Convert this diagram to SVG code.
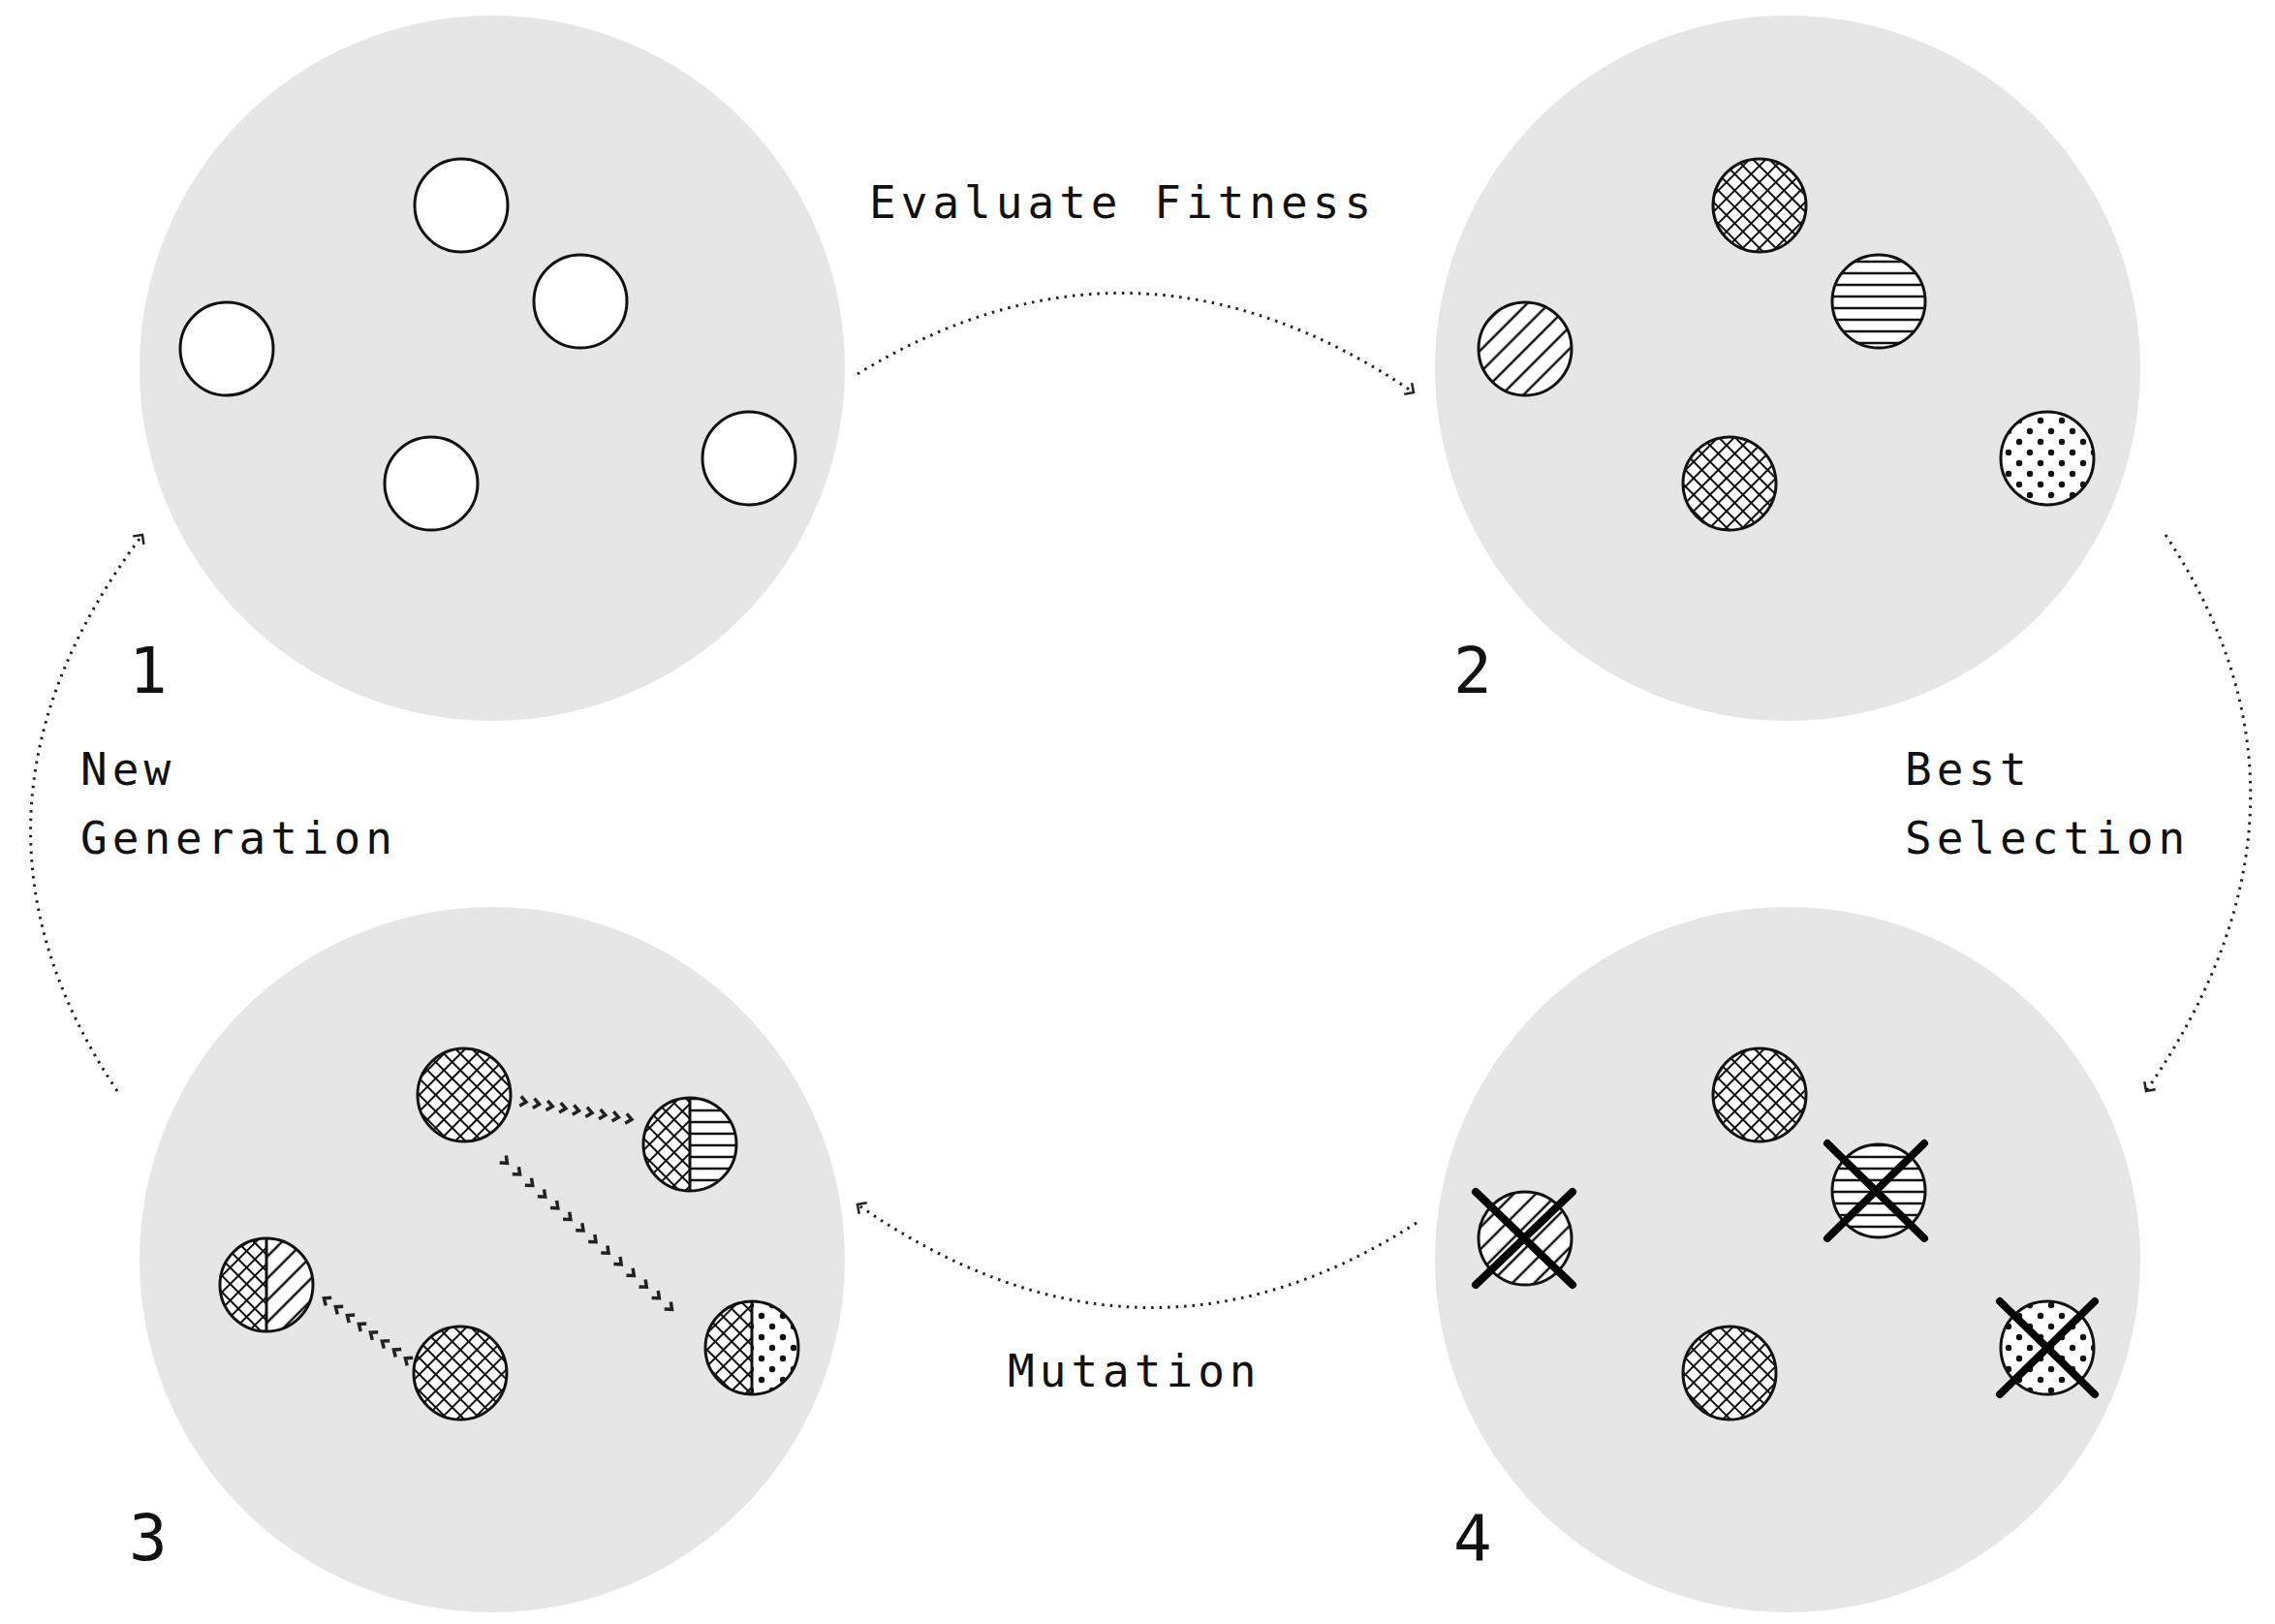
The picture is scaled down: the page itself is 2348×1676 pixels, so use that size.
<svg xmlns="http://www.w3.org/2000/svg" width="2348" height="1676" viewBox="0 0 2348 1676">
<style>
.big{fill:#e6e6e6}
.out{fill:none;stroke:#111;stroke-width:3}
.wh{fill:#fff;stroke:#111;stroke-width:3}
.lbl{font-family:"DejaVu Sans Mono","Liberation Mono",monospace;font-size:46px;letter-spacing:5px;fill:#111}
.num{font-family:"DejaVu Sans Mono","Liberation Mono",monospace;font-size:66px;fill:#111}
.conn{fill:none;stroke:#222;stroke-width:3;stroke-dasharray:2.5 6}
.chain{fill:none;stroke:none}
.x{stroke:#000;stroke-width:8;stroke-linecap:round}
.div{stroke:#111;stroke-width:3}
</style>
<defs>
<pattern id="cross" patternUnits="userSpaceOnUse" width="12" height="12" patternTransform="rotate(45)">
<rect width="12" height="12" fill="#fff"/>
<path d="M0 0H12M0 0V12" stroke="#111" stroke-width="4"/>
</pattern>
<pattern id="horiz" patternUnits="userSpaceOnUse" width="12" height="12">
<rect width="12" height="12" fill="#fff"/>
<path d="M0 6H12" stroke="#111" stroke-width="2.5"/>
</pattern>
<pattern id="diag" patternUnits="userSpaceOnUse" width="16" height="16" patternTransform="rotate(-45)">
<rect width="16" height="16" fill="#fff"/>
<path d="M0 8H16" stroke="#111" stroke-width="2.5"/>
</pattern>
<pattern id="dots" patternUnits="userSpaceOnUse" width="22" height="22">
<rect width="22" height="22" fill="#fff"/>
<circle cx="5" cy="5" r="3.2" fill="#111"/>
<circle cx="16" cy="16" r="3.2" fill="#111"/>
</pattern>
<marker id="hd" markerWidth="20" markerHeight="20" refX="10" refY="10" orient="auto" markerUnits="userSpaceOnUse">
<path d="M3 3L10 10L3 17" fill="none" stroke="#222" stroke-width="2.5"/>
</marker>
<marker id="chev" markerWidth="14" markerHeight="14" refX="7" refY="7" orient="auto" markerUnits="userSpaceOnUse">
<path d="M3 2L9 7L3 12" fill="none" stroke="#222" stroke-width="3.5"/>
</marker>
</defs>

<g id="node1">
<circle class="big" cx="508" cy="380" r="364"/>
<circle class="wh" cx="476" cy="212" r="48"/>
<circle class="wh" cx="599" cy="311" r="48"/>
<circle class="wh" cx="234" cy="360" r="48"/>
<circle class="wh" cx="445" cy="499" r="48"/>
<circle class="wh" cx="773" cy="473" r="48"/>
<text class="num" x="133" y="715">1</text>
</g>

<g id="node2">
<circle class="big" cx="1845" cy="380" r="364"/>
<circle class="out" cx="1816" cy="212" r="48" style="fill:url(#cross)"/>
<circle class="out" cx="1939" cy="311" r="48" style="fill:url(#horiz)"/>
<circle class="out" cx="1574" cy="360" r="48" style="fill:url(#diag)"/>
<circle class="out" cx="1785" cy="499" r="48" style="fill:url(#cross)"/>
<circle class="out" cx="2113" cy="473" r="48" style="fill:url(#dots)"/>
<text class="num" x="1500" y="715">2</text>
</g>

<g id="node3">
<circle class="big" cx="508" cy="1300" r="364"/>
<circle class="out" cx="479" cy="1130" r="48" style="fill:url(#cross)"/>
<circle class="out" cx="475" cy="1417" r="48" style="fill:url(#cross)"/>
<path d="M712 1133A48 48 0 0 0 712 1229Z" fill="url(#cross)"/>
<path d="M712 1133A48 48 0 0 1 712 1229Z" fill="url(#horiz)"/>
<line class="div" x1="712" y1="1133" x2="712" y2="1229"/>
<circle class="out" cx="712" cy="1181" r="48"/>
<path d="M275 1278A48 48 0 0 0 275 1374Z" fill="url(#cross)"/>
<path d="M275 1278A48 48 0 0 1 275 1374Z" fill="url(#diag)"/>
<line class="div" x1="275" y1="1278" x2="275" y2="1374"/>
<circle class="out" cx="275" cy="1326" r="48"/>
<path d="M776 1343A48 48 0 0 0 776 1439Z" fill="url(#cross)"/>
<path d="M776 1343A48 48 0 0 1 776 1439Z" fill="url(#dots)"/>
<line class="div" x1="776" y1="1343" x2="776" y2="1439"/>
<circle class="out" cx="776" cy="1391" r="48"/>
<polyline class="chain" marker-start="url(#chev)" marker-mid="url(#chev)" marker-end="url(#chev)" points="541,1137 554.6,1139.3 568.3,1141.5 581.9,1143.8 595.5,1146 609.1,1148.3 622.8,1150.5 636.4,1152.8 650,1155"/>
<polyline class="chain" marker-start="url(#chev)" marker-mid="url(#chev)" marker-end="url(#chev)" points="522,1199 535.1,1210.6 548.2,1222.2 561.2,1233.8 574.3,1245.5 587.4,1257.1 600.5,1268.7 613.5,1280.3 626.6,1291.9 639.7,1303.5 652.8,1315.2 665.8,1326.8 678.9,1338.4 692,1350"/>
<polyline class="chain" marker-start="url(#chev)" marker-mid="url(#chev)" marker-end="url(#chev)" points="420,1403 408,1394.1 396,1385.3 384,1376.4 372,1367.6 360,1358.7 348,1349.9 336,1341"/>
<text class="num" x="133" y="1610">3</text>
</g>

<g id="node4">
<circle class="big" cx="1845" cy="1300" r="364"/>
<circle class="out" cx="1816" cy="1130" r="48" style="fill:url(#cross)"/>
<circle class="out" cx="1939" cy="1229" r="48" style="fill:url(#horiz)"/>
<circle class="out" cx="1574" cy="1278" r="48" style="fill:url(#diag)"/>
<circle class="out" cx="1785" cy="1417" r="48" style="fill:url(#cross)"/>
<circle class="out" cx="2113" cy="1391" r="48" style="fill:url(#dots)"/>
<path class="x" d="M1886 1180L1986 1278M1986 1180L1886 1278"/>
<path class="x" d="M1523 1230L1623 1326M1623 1230L1523 1326"/>
<path class="x" d="M2064 1343L2162 1439M2162 1343L2064 1439"/>
<text class="num" x="1500" y="1610">4</text>
</g>

<g id="connectors">
<path class="conn" d="M885,386 Q1172,210 1459,405" marker-end="url(#hd)"/>
<path class="conn" d="M2235,552 Q2420,830 2215,1126" marker-end="url(#hd)"/>
<path class="conn" d="M1462,1262 Q1176,1446 885,1243" marker-end="url(#hd)"/>
<path class="conn" d="M121,1126 Q-70,840 147,552" marker-end="url(#hd)"/>
</g>

<g id="labels">
<text class="lbl" x="897" y="225">Evaluate Fitness</text>
<text class="lbl" x="1040" y="1431">Mutation</text>
<text class="lbl" x="1966" y="810">Best</text>
<text class="lbl" x="1966" y="881">Selection</text>
<text class="lbl" x="83" y="810">New</text>
<text class="lbl" x="83" y="881">Generation</text>
</g>
</svg>
